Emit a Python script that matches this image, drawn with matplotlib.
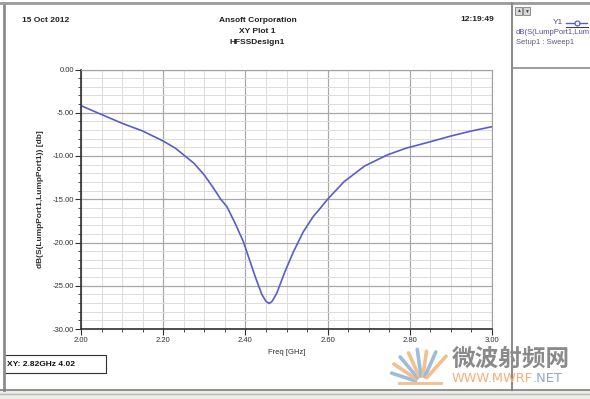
import math
import matplotlib.pyplot as plt
from matplotlib.ticker import MultipleLocator, FixedLocator
from matplotlib.patches import Rectangle

plt.rcParams['font.family'] = ['Liberation Sans', 'DejaVu Sans']

# S11 sweep
freq = [2.00, 2.034, 2.10, 2.15, 2.20, 2.23, 2.25, 2.275, 2.30, 2.32, 2.34, 2.355,
        2.375, 2.395, 2.41, 2.425, 2.44, 2.45, 2.458, 2.465, 2.476, 2.496, 2.517,
        2.541, 2.565, 2.582, 2.60, 2.64, 2.69, 2.745, 2.79, 2.85, 2.90, 2.95, 3.00]
s11 = [-4.18, -4.88, -6.22, -7.11, -8.27, -9.11, -9.88, -10.85, -12.2, -13.55, -15.0, -15.86,
       -17.78, -19.9, -22.0, -24.1, -26.0, -26.8, -27.05, -26.8, -25.9, -23.4, -21.06,
       -18.75, -17.0, -16.05, -15.0, -12.97, -11.16, -9.88, -9.11, -8.35, -7.69, -7.11, -6.61]
xticks = [2.00, 2.20, 2.40, 2.60, 2.80, 3.00]
yticks = [0, -5, -10, -15, -20, -25, -30]

W, H = 590, 399
fig = plt.figure(figsize=(W / 100, H / 100), dpi=100)

# background overlay in pixel coords for the window chrome
bg = fig.add_axes([0, 0, 1, 1], zorder=0)
bg.set_xlim(0, W)
bg.set_ylim(H, 0)
bg.axis('off')
bg.add_patch(Rectangle((0, 390), W, 9, color='#ecece8'))
bg.plot([3.5, 3.5], [3, 390], color='#8c8c8c', lw=2)
bg.plot([0, W], [3, 3], color='#9a9a9a', lw=2)
bg.plot([512, 512], [3, 390], color='#8c8c8c', lw=1.5)
bg.plot([512, W], [68, 68], color='#8c8c8c', lw=1.2)
bg.plot([0, W], [390, 390], color='#808080', lw=1.2)
bg.plot([0, W], [393.5, 393.5], color='#b8b8b0', lw=1)
bg.add_patch(Rectangle((515, 7), 7, 8, facecolor='#d8d8d8', edgecolor='#808080', lw=0.6))
bg.add_patch(Rectangle((523, 7), 7, 8, facecolor='#d8d8d8', edgecolor='#808080', lw=0.6))
bg.text(518.5, 11, '▲', fontsize=3.5, ha='center', va='center', color='#404040')
bg.text(526.5, 11, '▼', fontsize=3.5, ha='center', va='center', color='#404040')

hdr = dict(fontsize=6, fontweight='bold', va='center', color='#202020',
           family=['Liberation Sans Narrow', 'Liberation Sans'])
bg.text(22, 20, '15 Oct 2012', **hdr)
bg.text(257.5, 20.7, 'Ansoft Corporation', ha='center', **hdr)
bg.text(257.5, 31.7, 'XY Plot 1', ha='center', **hdr)
bg.text(257.5, 42.7, 'HFSSDesign1', ha='center', **hdr)
bg.text(494, 19.5, '12:19:49', ha='right', **hdr)

# legend panel
bg.text(563, 22.7, 'Y1', fontsize=6, ha='right', va='center', color='#5a4a9a')
bg.plot([566, 587], [22.7, 22.7], color='#5b5bd0', lw=1)
bg.plot([577], [22.7], marker='o', ms=3.5, mfc='white', mec='#5b5bd0', mew=0.9)
bg.plot([566, 588], [26.5, 26.5], color='#404040', lw=0.8)
bg.text(516, 32, 'dB(S(LumpPort1,Lum', fontsize=5.5, va='center', color='#5a4a9a')
bg.text(516, 42, 'Setup1 : Sweep1', fontsize=5.5, va='center', color='#5a5a7a')

# marker readout box
bg.add_patch(Rectangle((4, 355), 102, 18, facecolor='white', edgecolor='#303030', lw=0.8))
bg.text(7, 364, 'XY: 2.82GHz 4.02', fontsize=6, fontweight='bold', va='center', color='#101010')

# watermark
cx, cy = 422, 383
rays = [(-72, '#9dbcdc', 32), (-56, '#f2c08e', 34), (-40, '#9dbcdc', 34), (-24, '#f2c08e', 33),
        (-8, '#9dbcdc', 34), (8, '#f2c08e', 32), (24, '#9dbcdc', 34), (42, '#f2c08e', 36)]
for ang, col, ln in rays:
    a = math.radians(ang)
    bg.plot([cx + 7 * math.sin(a), cx + ln * math.sin(a)],
            [cy - 7 * math.cos(a), cy - ln * math.cos(a)], color=col, lw=2.6,
            solid_capstyle='round')
bg.plot([399, 441], [383, 383], color='#f2c08e', lw=2)
bg.text(452, 358.5, '微波射频网', fontsize=17, fontweight='bold', va='center', color='#8a8a8a',
        family=['Noto Sans CJK SC', 'DejaVu Sans'])
wm = dict(fontsize=9.3, va='center', family=['DejaVu Sans'])
t1 = bg.text(452, 379, 'WWW.MWRF', color='#f2b07a', **wm)
fig.canvas.draw()
bb = t1.get_window_extent()
xend = bg.transData.inverted().transform((bb.x1, bb.y0))[0]
bg.text(xend, 379, '.NET', color='#8ea8c8', **wm)

# main plot
ax = fig.add_axes([81 / W, 1 - 329 / H, 411 / W, 259.5 / H], zorder=1)
ax.plot(freq, s11, color='#5b5bd0', lw=1.2)
ax.set_xlim(2.0, 3.0)
ax.set_ylim(-30, 0)
ax.xaxis.set_major_locator(FixedLocator(xticks))
ax.xaxis.set_minor_locator(MultipleLocator(0.05))
ax.yaxis.set_major_locator(FixedLocator(yticks))
ax.yaxis.set_minor_locator(MultipleLocator(1))
ax.set_xticklabels(['%.2f' % v for v in xticks])
ax.set_yticklabels(['%.2f' % v for v in yticks])
ax.grid(which='major', color='#a8a8a8', lw=0.9)
ax.grid(which='minor', color='#dcdcdc', lw=0.7)
ax.set_axisbelow(True)
ax.tick_params(which='both', labelsize=5.5, colors='#303030', direction='out')
ax.tick_params(which='major', length=4, width=0.8)
ax.tick_params(which='minor', length=2, width=0.6)
ax.tick_params(axis='x', pad=2)
ax.tick_params(axis='y', pad=1)
for s in ['left', 'bottom']:
    ax.spines[s].set_color('#303030')
    ax.spines[s].set_linewidth(1.2)
for s in ['top', 'right']:
    ax.spines[s].set_color('#a0a0a0')
    ax.spines[s].set_linewidth(0.8)
ax.set_xlabel('Freq [GHz]', fontsize=5.5, labelpad=3, color='#303030')
ax.set_ylabel('dB(S(LumpPort1,LumpPort1)) [db]', fontsize=6, fontweight='bold', labelpad=6, color='#303030')

fig.savefig('out.png', dpi=100)
